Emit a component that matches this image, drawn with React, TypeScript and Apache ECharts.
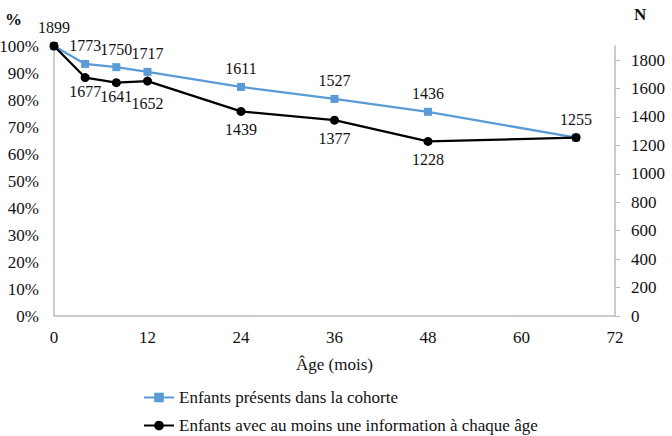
import React, { useEffect, useRef } from "react";
import * as echarts from "echarts";

const ages = [0, 4, 8, 12, 24, 36, 48, 67];
const presents = [1899, 1773, 1750, 1717, 1611, 1527, 1436, 1255];
const avecInfo = [1899, 1677, 1641, 1652, 1439, 1377, 1228, 1255];
const seriesNames = [
  "Enfants présents dans la cohorte",
  "Enfants avec au moins une information à chaque âge",
];
const nTicks = [0, 200, 400, 600, 800, 1000, 1200, 1400, 1600, 1800];
const nMax = 1899;

const FONT = "'Liberation Serif', 'Times New Roman', serif";

export default function App() {
  const ref = useRef<HTMLDivElement>(null);
  useEffect(() => {
    if (!ref.current) return;
    const chart = echarts.init(ref.current, null, { renderer: "svg" });
    const last = ages.length - 1;
    const blueData = ages.map((a, i) => ({
      value: [a, presents[i]],
      label: { show: i !== 0 && i !== last },
    }));
    const blackData = ages.map((a, i) => {
      const top = i === 0 || i === last;
      let dy = 0;
      if (i === 1 || i === 2) dy = -5;
      if (i === 3) dy = 4;
      return {
        value: [a, avecInfo[i]],
        label: {
          show: true,
          position: top ? "top" : "bottom",
          distance: 6,
          offset: [0, dy],
        },
      };
    });
    const labelStyle = {
      fontFamily: FONT,
      fontSize: 16,
      color: "#111",
      formatter: (p: any) => String(p.value[1]),
    };
    const axisText = { fontFamily: FONT, fontSize: 17, color: "#111" };
    chart.setOption({
      animation: false,
      backgroundColor: "#fff",
      textStyle: { fontFamily: FONT },
      grid: { left: 54, right: 57, top: 46, bottom: 120, outerBoundsMode: "none", containLabel: false },
      xAxis: {
        type: "value",
        min: 0,
        max: 72,
        interval: 12,
        name: "Âge (mois)",
        nameLocation: "middle",
        nameGap: 40,
        nameTextStyle: { fontFamily: FONT, fontSize: 17, color: "#111" },
        axisLine: { show: true, lineStyle: { color: "#BBBBBB", width: 1.5 } },
        axisTick: { show: false },
        splitLine: { show: false },
        axisLabel: { ...axisText, margin: 13, formatter: (v: number) => String(v) },
      },
      yAxis: [
        {
          type: "value",
          min: 0,
          max: 100,
          interval: 10,
          position: "left",
          axisLine: { show: true, lineStyle: { color: "#BBBBBB", width: 1.5 } },
          axisTick: { show: false },
          splitLine: { show: false },
          axisLabel: { ...axisText, margin: 15, formatter: (v: number) => v + "%" },
        },
        {
          type: "value",
          min: 0,
          max: nMax,
          position: "right",
          axisLine: { show: true, lineStyle: { color: "#BBBBBB", width: 1.5 } },
          axisTick: {
            show: true,
            length: 5,
            lineStyle: { color: "#BBBBBB" },
            customValues: nTicks,
          },
          splitLine: { show: false },
          axisLabel: {
            ...axisText,
            margin: 16,
            customValues: nTicks,
            formatter: (v: number) => String(v),
          },
        },
      ],
      legend: {
        orient: "vertical",
        left: 143,
        top: 389,
        height: 80,
        padding: 0,
        itemWidth: 30,
        itemHeight: 12,
        itemGap: 11,
        textStyle: { fontFamily: FONT, fontSize: 17, color: "#111" },
        data: seriesNames,
      },
      graphic: [
        {
          type: "text",
          left: 5,
          top: 11,
          style: { text: "%", font: "bold 17px " + FONT, fill: "#111" },
        },
        {
          type: "text",
          left: 634,
          top: 6,
          style: { text: "N", font: "bold 17px " + FONT, fill: "#111" },
        },
      ],
      series: [
        {
          name: seriesNames[0],
          type: "line",
          yAxisIndex: 1,
          data: blueData,
          symbol: "rect",
          symbolSize: 8,
          lineStyle: { color: "#5B9BD5", width: 2.25 },
          itemStyle: { color: "#5B9BD5" },
          label: { ...labelStyle, position: "top", distance: 6 },
          z: 2,
        },
        {
          name: seriesNames[1],
          type: "line",
          yAxisIndex: 1,
          data: blackData,
          symbol: "circle",
          symbolSize: 9,
          lineStyle: { color: "#000", width: 2.25 },
          itemStyle: { color: "#000" },
          label: { ...labelStyle },
          z: 3,
        },
      ],
    });
    return () => chart.dispose();
  }, []);
  return <div ref={ref} style={{ width: 672, height: 436, position: "absolute", left: 0, top: 0 }} />;
}
